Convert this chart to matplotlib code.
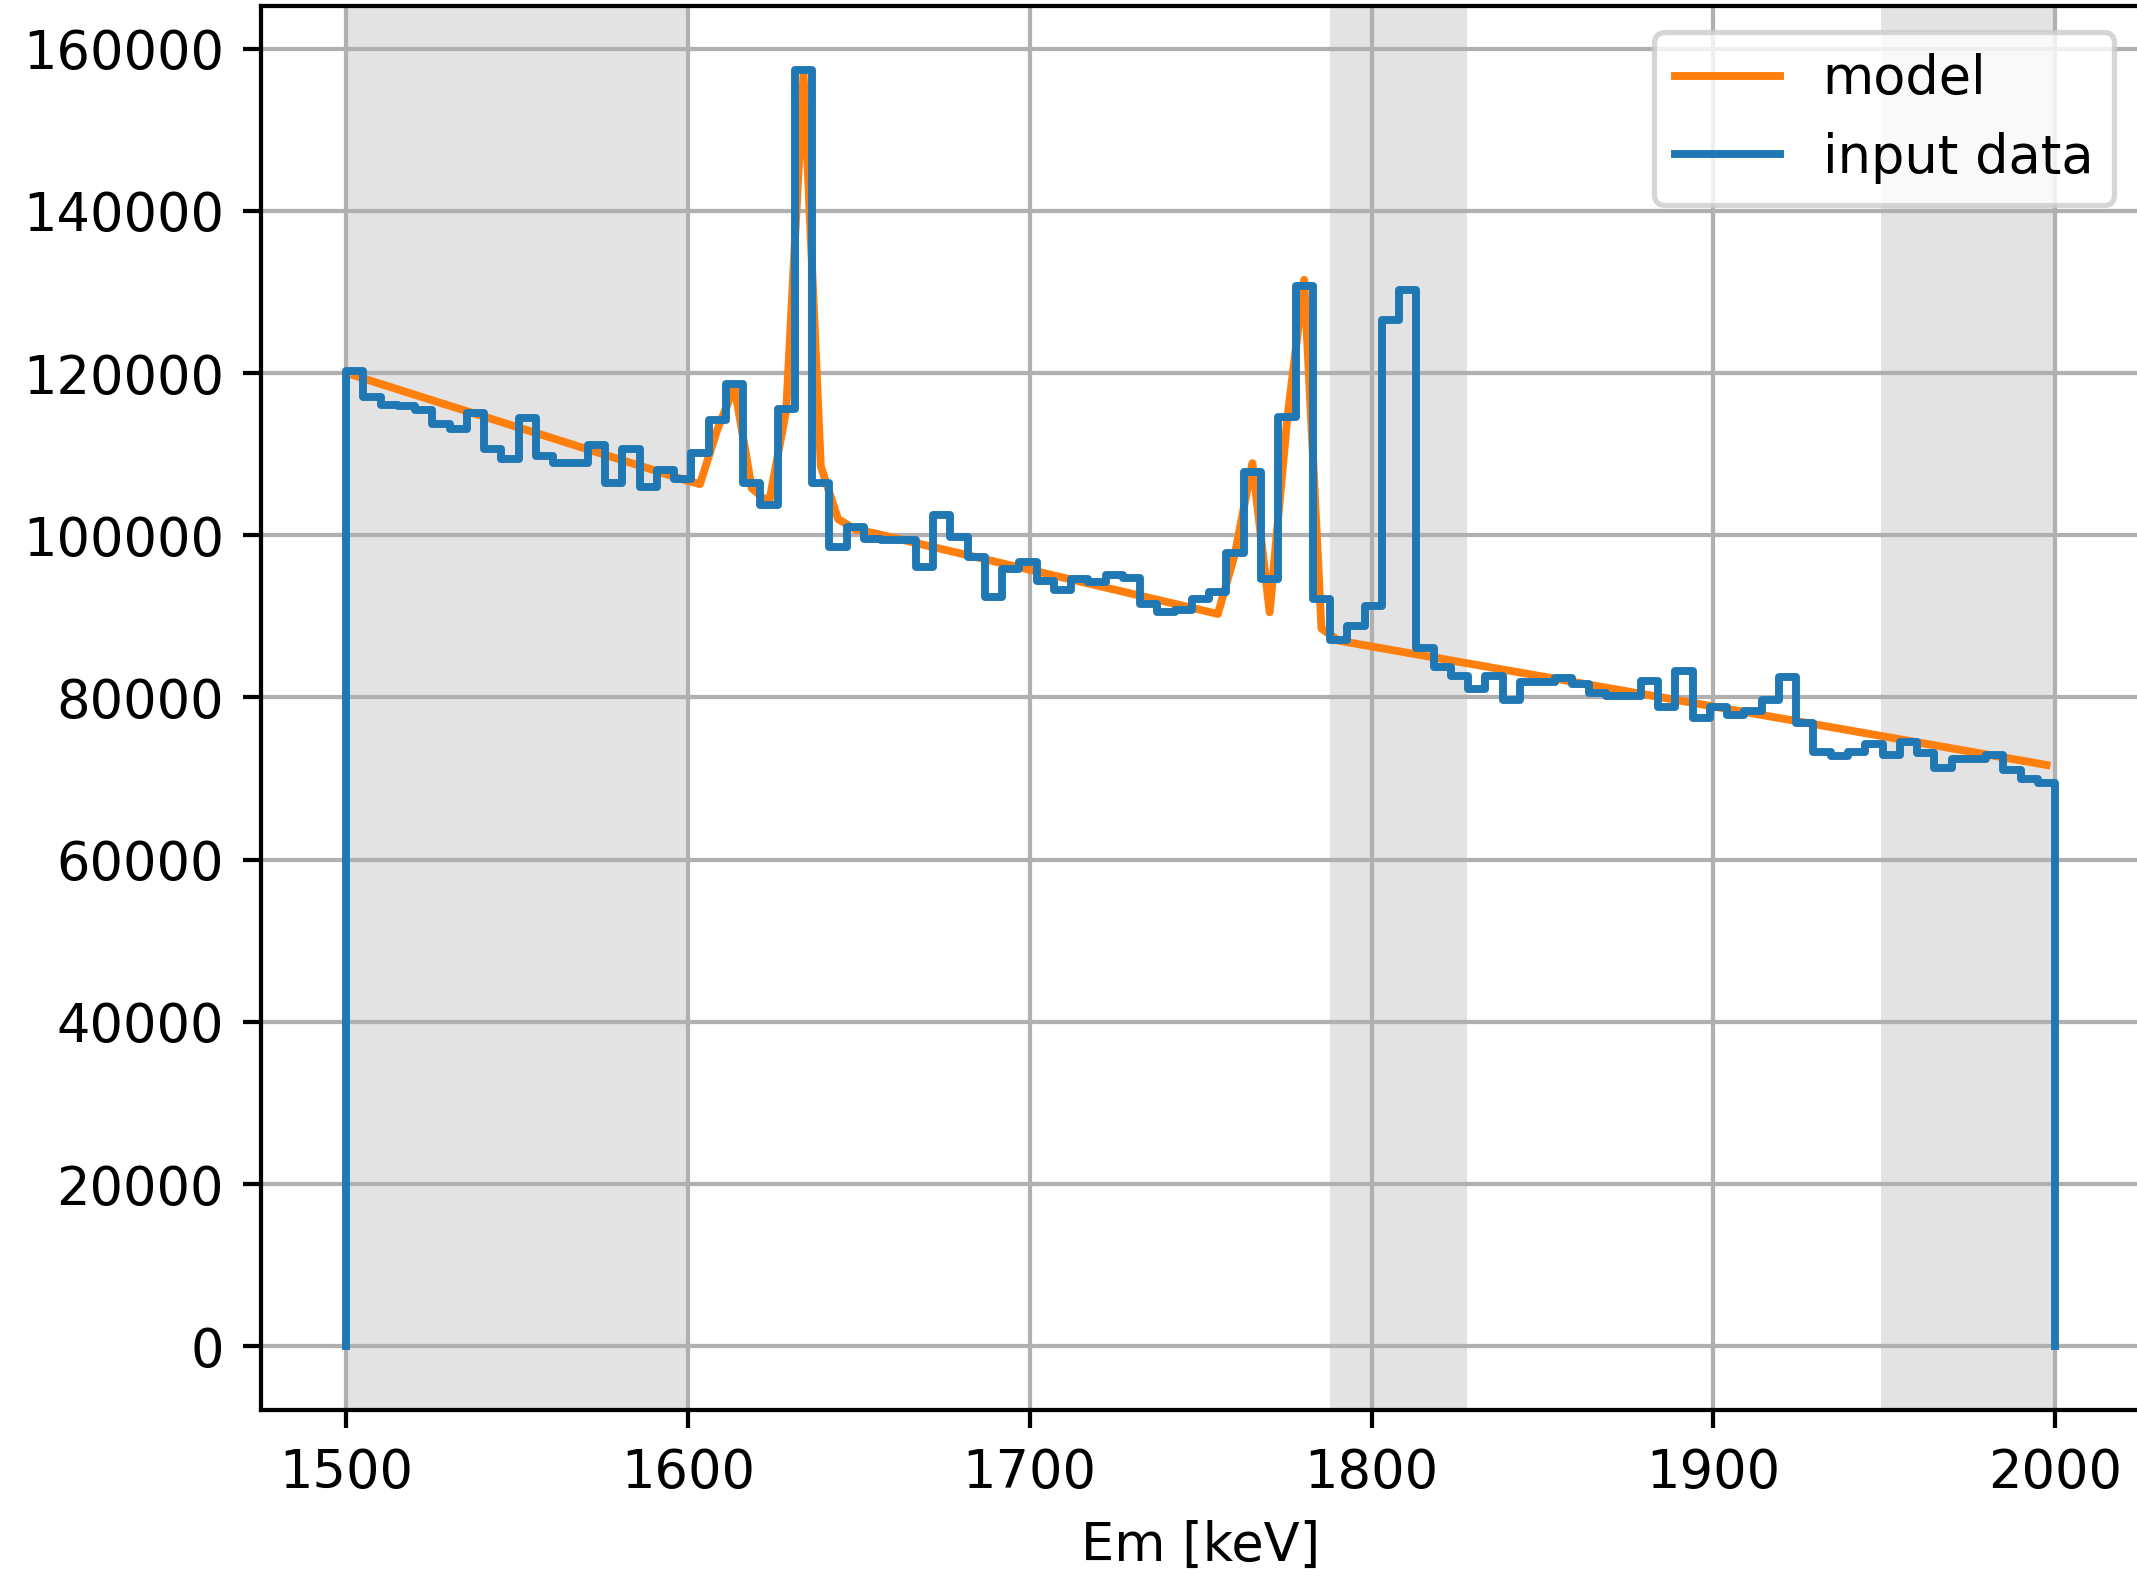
import matplotlib
matplotlib.use('Agg')
import matplotlib.pyplot as plt
import numpy as np

# binning of the input spectrum: 100 edges -> 99 bins
E_LO, E_HI, N_EDGES = 1500, 2000, 100

# measured counts per bin
data_counts = [
    120200, 117050, 116100, 115900, 115450, 113700, 113100, 115100, 110700, 109350,
    114500, 109800, 108900, 108900, 111150, 106400, 110600, 106000, 108000, 106950,
    110200, 114200, 118700, 106400, 103700, 115600, 157400, 106500, 98500, 101000,
    99600, 99400, 99400, 96100, 102500, 99800, 97300, 92400, 95800, 96700,
    94300, 93200, 94650, 94250, 95100, 94700, 91550, 90500, 90800, 92100,
    93000, 97800, 107800, 94600, 114550, 130700, 92100, 87100, 88800, 91250,
    126500, 130250, 86100, 83800, 82600, 81000, 82700, 79700, 81850, 81850,
    82450, 81650, 80600, 80200, 80200, 82050, 78800, 83300, 77500, 78850,
    77850, 78350, 79700, 82500, 76800, 73300, 72800, 73300, 74300, 72900,
    74500, 73100, 71250, 72450, 72450, 72900, 71050, 70000, 69400,
]

# fitted model, evaluated at the bin centres
model_counts = [
    119700, 119000, 118330, 117650, 116980, 116300, 115640, 114970, 114300, 113620,
    112950, 112280, 111610, 110930, 110260, 109590, 108920, 108250, 107570, 106900,
    106300, 113000, 118300, 105800, 104000, 115500, 157000, 108500, 102000, 100700,
    100300, 99800, 99300, 98800, 98300, 97800, 97300, 96800, 96300, 95800,
    95300, 94800, 94300, 93800, 93300, 92800, 92300, 91800, 91300, 90800,
    90300, 97800, 108900, 90500, 114000, 131500, 88500, 87000, 86630, 86250,
    85880, 85500, 85130, 84760, 84380, 84010, 83630, 83260, 82890, 82510,
    82140, 81760, 81390, 81020, 80640, 80270, 79900, 79520, 79150, 78770,
    78400, 78030, 77650, 77280, 76910, 76530, 76160, 75780, 75410, 75040,
    74660, 74290, 73920, 73540, 73170, 72790, 72420, 72050, 71670,
]

# grey bands (keV)
band_lo = [1500, 1788, 1949]
band_hi = [1600, 1828, 2000]

DPI = 379
W, H = 2137, 1585

edges = np.linspace(E_LO, E_HI, N_EDGES)
centers = 0.5 * (edges[1:] + edges[:-1])
counts = np.asarray(data_counts, dtype=float)

fig = plt.figure(figsize=(W / DPI, H / DPI), dpi=DPI)
ax = fig.add_axes([260.6 / W, 175 / H, 1880 / W, 1404 / H])

for lo, hi in zip(band_lo, band_hi):
    ax.axvspan(lo, hi, color='grey', alpha=0.22, lw=0)

ax.plot(centers, model_counts, color='C1', label='model')

# closed outline like a 'step' histogram (drops to zero at both ends)
xs = np.concatenate([[edges[0]], edges, [edges[-1]]])
ys = np.concatenate([[0], counts, [counts[-1], 0]])
ax.step(xs, ys, where='post', color='C0', label='input data')

ax.set_xlabel('Em [keV]')
ax.grid(True)
ax.legend(loc='upper right')

fig.savefig('out.png', dpi=DPI)
plt.close(fig)
